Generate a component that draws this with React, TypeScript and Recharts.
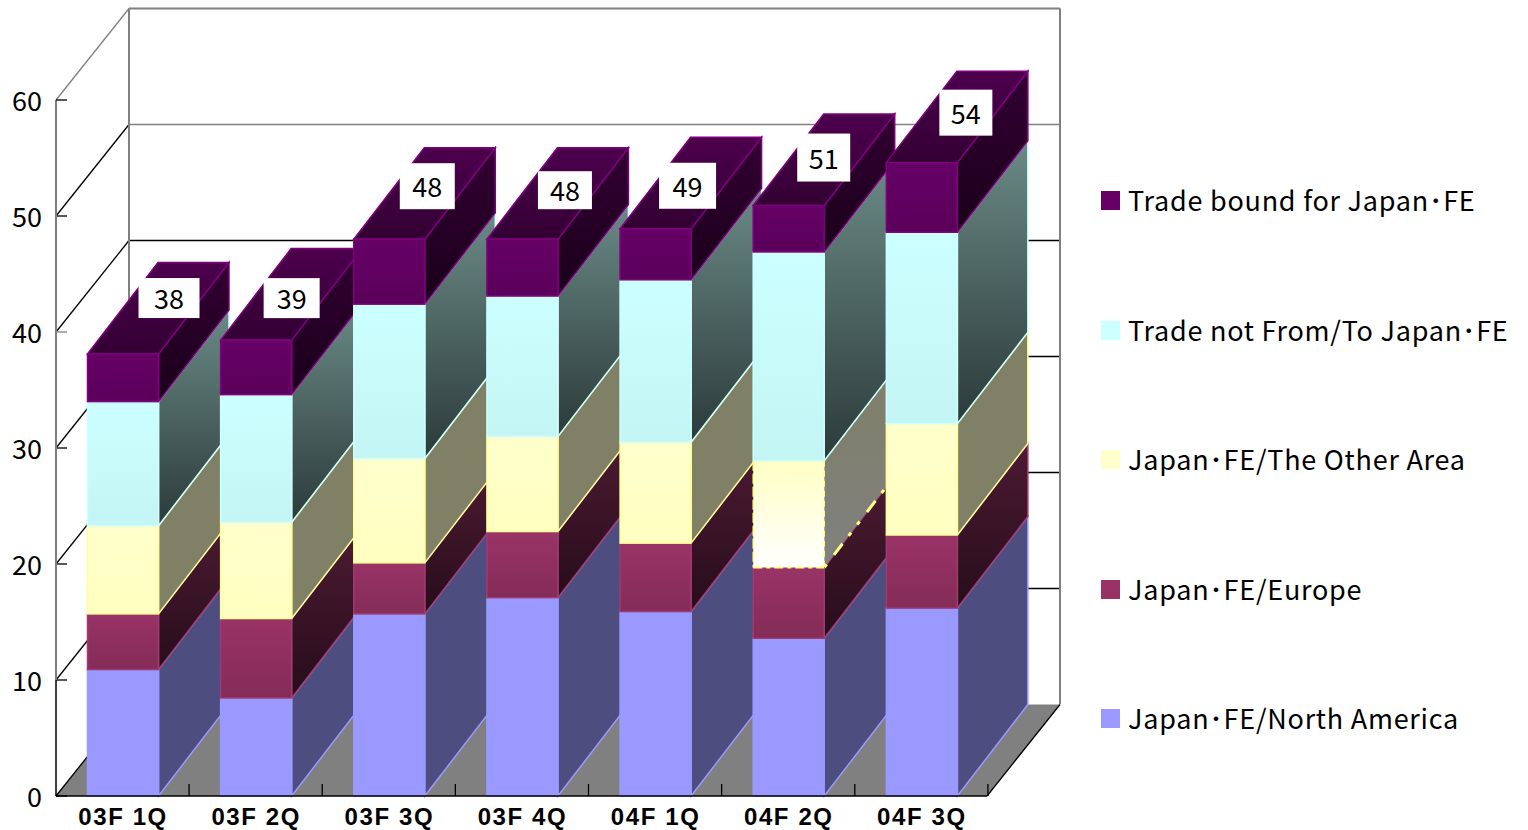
import React from "react";
import { BarChart, Bar, XAxis, YAxis, CartesianGrid, Legend, LabelList } from "recharts";

const CATEGORIES = ["03F 1Q", "03F 2Q", "03F 3Q", "03F 4Q", "04F 1Q", "04F 2Q", "04F 3Q"];
const NORTH_AMERICA = [10.9, 8.45, 15.7, 17.1, 15.9, 13.6, 16.2];
const EUROPE = [4.8, 6.85, 4.4, 5.7, 5.9, 6.1, 6.3];
const OTHER_AREA = [7.6, 8.3, 9.0, 8.2, 8.7, 9.2, 9.6];
const NOT_FROM_TO = [10.7, 11.0, 13.3, 12.1, 14.0, 18.0, 16.5];
const BOUND_FOR = [4.1, 4.7, 5.6, 4.9, 4.4, 4.0, 6.0];
const TOTALS = [38, 39, 48, 48, 49, 51, 54];
const Y_TICKS = [0, 10, 20, 30, 40, 50, 60];

const data = CATEGORIES.map((name, i) => ({
  name,
  na: NORTH_AMERICA[i],
  eu: EUROPE[i],
  other: OTHER_AREA[i],
  notFT: NOT_FROM_TO[i],
  bound: BOUND_FOR[i],
  total: TOTALS[i],
}));

const SERIES = [
  { key: "na", name: "Japan･FE/North America", front: "url(#fNa)", side: "#4D4D80", stroke: "#9999FF", swatch: "#9999FF" },
  { key: "eu", name: "Japan･FE/Europe", front: "url(#fEu)", side: "url(#sEu)", stroke: "#A03A70", swatch: "#993366" },
  { key: "other", name: "Japan･FE/The Other Area", front: "url(#fOt)", side: "url(#sOt)", stroke: "#FFFF99", swatch: "#FFFFCC" },
  { key: "notFT", name: "Trade not From/To Japan･FE", front: "url(#fNf)", side: "url(#sNf)", stroke: "#CCFFFF", swatch: "#CCFFFF" },
  { key: "bound", name: "Trade bound for Japan･FE", front: "url(#fBo)", side: "url(#sBo)", stroke: "#800080", swatch: "#660066" },
];

// Chart geometry and hand-placed data label boxes (offsets from the top centre of each bar)
const DEPTH_X = 70.5;
const DEPTH_Y = -91.5;
const WALL_X = 73;
const WALL_Y = -91.5;
const BAR_NUDGE = 0.5;
const ODD_INDEX = 5;
const LABEL_BOXES = [
  [16, 77, -76, -36],
  [8, 64, -62, -22],
  [11, 66, -76, -30],
  [16, 70, -68, -30],
  [4, 61, -66, -20],
  [9, 62, -72, -24],
  [18, 71, -73, -27],
];
const FONT = '"Noto Sans CJK JP", "Noto Sans", sans-serif';
const GRAY = "#808080";

function SideShape(props: any, s: (typeof SERIES)[number], isTop: boolean) {
  const { y, width, height, index } = props;
  const x = props.x + BAR_NUDGE;
  const r = x + width;
  const b = y + height;
  const odd = s.key === "other" && index === ODD_INDEX;
  return (
    <g>
      <path
        d={`M${r},${y} L${r + DEPTH_X},${y + DEPTH_Y} L${r + DEPTH_X},${b + DEPTH_Y} L${r},${b} Z`}
        fill={odd ? "url(#sOdd)" : s.side}
        stroke={odd ? "none" : s.stroke}
        strokeWidth={1.5}
      />
      {odd && (
        <g fill="none" stroke="#FFFF80">
          <path d={`M${r},${y} L${r + DEPTH_X},${y + DEPTH_Y}`} strokeWidth={1.5} strokeDasharray="4 6" />
          <path d={`M${r},${b} L${r + DEPTH_X},${b + DEPTH_Y}`} strokeWidth={3} strokeDasharray="4 12 14 10 4 10" />
        </g>
      )}
      {isTop && (
        <path
          d={`M${x},${y} L${x + DEPTH_X},${y + DEPTH_Y} L${r + DEPTH_X},${y + DEPTH_Y} L${r},${y} Z`}
          fill="url(#tBo)"
          stroke={s.stroke}
          strokeWidth={1.5}
        />
      )}
    </g>
  );
}

function FrontShape(props: any, s: (typeof SERIES)[number]) {
  const { y, width, height, index } = props;
  const x = props.x + BAR_NUDGE;
  const odd = s.key === "other" && index === ODD_INDEX;
  if (odd) {
    return (
      <g>
        <rect x={x} y={y} width={width} height={height} fill="url(#fOdd)" />
        <line x1={x} y1={y} x2={x + width} y2={y} stroke="#FFFF80" strokeWidth={1.5} strokeDasharray="12 2" />
        <line x1={x} y1={y} x2={x} y2={y + height} stroke="#FFFF80" strokeWidth={1.5} strokeDasharray="10 3" />
        <line x1={x + width} y1={y} x2={x + width} y2={y + height} stroke="#FFFF80" strokeWidth={1.5} strokeDasharray="6 4" />
        <line x1={x} y1={y + height} x2={x + width} y2={y + height} stroke="#FFFF80" strokeWidth={2} strokeDasharray="9 4 4 4" />
      </g>
    );
  }
  return <rect x={x} y={y} width={width} height={height} fill={s.front} stroke={s.stroke} strokeWidth={1.5} />;
}

function Walls(props: any) {
  const { x1, y1, index } = props;
  const x2 = props.x2 - 1;
  const bottomY = 796;
  const level = Math.round((bottomY - y1) / 116) * 10;
  const by = y1 + WALL_Y;
  const bx1 = x1 + WALL_X;
  const bx2 = x2 + WALL_X;
  const backColor = level >= 50 ? GRAY : "#000";
  const tickColor = level === 40 ? GRAY : "#000";
  return (
    <g key={`wall-${index}`}>
      {level === 0 && <path d={`M${x1},${y1} L${bx1},${by} L${bx2},${by} L${x2},${y1} Z`} fill={GRAY} stroke="none" />}
      {level === 60 && (
        <g>
          <line x1={x1} y1={y1} x2={x1} y2={680} stroke={GRAY} strokeWidth={2} />
          <line x1={bx1} y1={by} x2={bx1} y2={704} stroke={GRAY} strokeWidth={2} />
          <line x1={bx2} y1={by} x2={bx2} y2={704} stroke={GRAY} strokeWidth={2} />
        </g>
      )}
      {level === 10 && <line x1={x1} y1={y1} x2={x1} y2={bottomY} stroke="#000" strokeWidth={1.5} />}
      <line x1={x1} y1={y1} x2={bx1} y2={by} stroke={level === 60 ? GRAY : "#000"} strokeWidth={1.3} />
      {level > 0 ? (
        <line x1={bx1} y1={by} x2={bx2} y2={by} stroke={backColor} strokeWidth={level === 60 ? 2 : 1.3} />
      ) : (
        <line x1={x2} y1={y1} x2={bx2} y2={by} stroke="#000" strokeWidth={1.3} />
      )}
      <line x1={x1} y1={y1} x2={x1 + 11} y2={y1} stroke={tickColor} strokeWidth={1.3} />
    </g>
  );
}

function XTick(props: any) {
  const { x, payload, index } = props;
  const half = 66.5;
  return (
    <g>
      {index === 0 && <line x1={x - half} y1={796} x2={x + half * 13} y2={796} stroke="#000" strokeWidth={1.5} />}
      <line x1={x + half} y1={784} x2={x + half} y2={796} stroke="#000" strokeWidth={1.3} />
      <text x={x + 0.5} y={824.5} textAnchor="middle" fontFamily='"Liberation Sans", sans-serif' fontSize={24} fontWeight={700} letterSpacing={1.6} fill="#000">
        {payload.value}
      </text>
    </g>
  );
}

function YTick(props: any) {
  const { y, payload } = props;
  return (
    <text x={42} y={y + 11} textAnchor="end" fontFamily={FONT} fontSize={27} fill="#000">
      {payload.value}
    </text>
  );
}

function TotalLabel(props: any) {
  const { x, y, width, value, index } = props;
  const [l, r, t, b] = LABEL_BOXES[index];
  const cx = x + width / 2;
  return (
    <g>
      <rect x={cx + l} y={y + t} width={r - l} height={b - t} fill="#fff" />
      <text x={cx + (l + r) / 2} y={y + (t + b) / 2 + 11} textAnchor="middle" fontFamily={FONT} fontSize={27} fill="#000">
        {value}
      </text>
    </g>
  );
}

function LegendBox() {
  const items = [...SERIES].reverse();
  return (
    <div style={{ display: "flex", flexDirection: "column" }}>
      {items.map((s) => (
        <div key={s.key} style={{ height: 129.5, display: "flex", alignItems: "center", fontFamily: FONT, fontSize: 27, letterSpacing: 0.75, color: "#000", whiteSpace: "nowrap" }}>
          <span style={{ display: "inline-block", width: 19, height: 19, background: s.swatch, marginRight: 8, position: "relative", top: 1 }} />
          <span>{s.name}</span>
        </div>
      ))}
    </div>
  );
}

function Grad({ id, from, to }: { id: string; from: string; to: string }) {
  return (
    <linearGradient id={id} x1="0" y1="0" x2="0" y2="1">
      <stop offset="0" stopColor={from} />
      <stop offset="1" stopColor={to} />
    </linearGradient>
  );
}

export default function App() {
  return (
    <div style={{ position: "absolute", left: 0, top: 0 }}>
      <BarChart width={1528} height={830} data={data} margin={{ top: 100, right: 540, bottom: 0, left: 0 }} barSize={71}>
        <defs>
          {Grad({ id: "fNa", from: "#9999FF", to: "#9999FF" })}
          {Grad({ id: "fEu", from: "#993366", to: "#842C58" })}
          {Grad({ id: "fOt", from: "#FFFFCC", to: "#FFFFC0" })}
          {Grad({ id: "fNf", from: "#CCFFFF", to: "#C4F5F5" })}
          {Grad({ id: "fBo", from: "#660066", to: "#5A005A" })}
          {Grad({ id: "fOdd", from: "#FFFFC4", to: "#FFFFFF" })}
          {Grad({ id: "sEu", from: "#4D1A33", to: "#260D1A" })}
          {Grad({ id: "sOt", from: "#808066", to: "#808066" })}
          {Grad({ id: "sNf", from: "#6A8A86", to: "#2C3A3A" })}
          {Grad({ id: "sBo", from: "#330033", to: "#1A001A" })}
          {Grad({ id: "tBo", from: "#4D004D", to: "#330033" })}
          {Grad({ id: "sOdd", from: "#7F7F68", to: "#808080" })}
        </defs>
        <CartesianGrid xAxisId="side" vertical={false} horizontal={Walls as any} />
        <XAxis xAxisId="side" dataKey="name" axisLine={false} tickLine={false} height={34} tick={XTick as any} interval={0} />
        <XAxis xAxisId="front" dataKey="name" hide />
        <YAxis domain={[0, 60]} ticks={Y_TICKS} width={56} axisLine={false} tickLine={false} tick={YTick as any} interval={0} />
        <Legend
          layout="vertical"
          align="center"
          verticalAlign="middle"
          itemSorter={null}
          content={LegendBox as any}
          wrapperStyle={{ left: 1101, top: 135, width: 425, height: 650 }}
        />
        {SERIES.map((s, i) => (
          <Bar
            key={`side-${s.key}`}
            xAxisId="side"
            stackId="side"
            dataKey={s.key}
            legendType="none"
            isAnimationActive={false}
            shape={(p: any) => SideShape(p, s, i === SERIES.length - 1)}
          />
        ))}
        {SERIES.map((s, i) => (
          <Bar
            key={`front-${s.key}`}
            xAxisId="front"
            stackId="front"
            dataKey={s.key}
            name={s.name}
            fill={s.swatch}
            isAnimationActive={false}
            shape={(p: any) => FrontShape(p, s)}
          >
            {i === SERIES.length - 1 && <LabelList dataKey="total" content={TotalLabel as any} />}
          </Bar>
        ))}
      </BarChart>
    </div>
  );
}
